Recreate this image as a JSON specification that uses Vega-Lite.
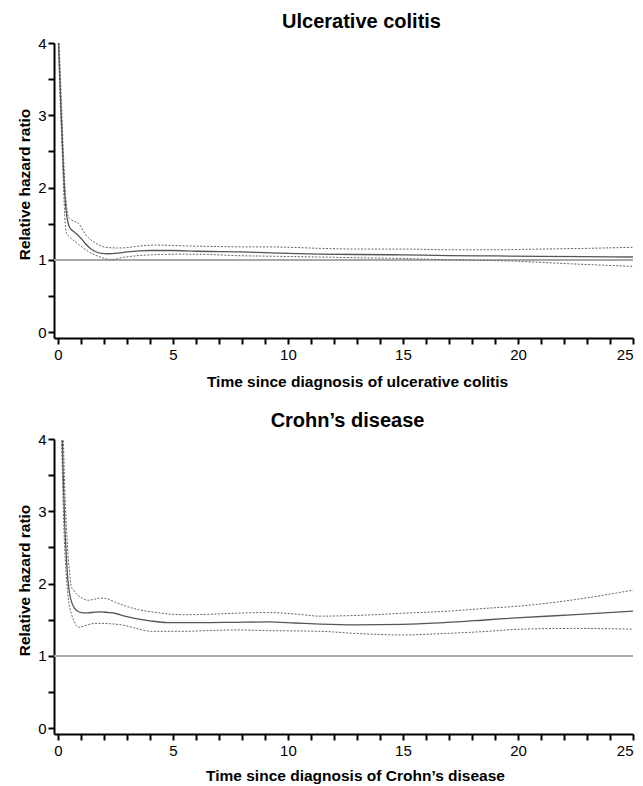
{
  "$schema": "https://vega.github.io/schema/vega-lite/v6.json",
  "padding": {"left": 17, "top": 12, "right": 0, "bottom": 0},
  "background": "white",
  "config": {
    "font": "Liberation Sans",
    "view": {"stroke": null},
    "axis": {"domainColor": "black", "domainWidth": 2, "tickColor": "black", "tickWidth": 2, "tickSize": 6, "labelFontSize": 15, "labelColor": "black", "labelFont": "Liberation Sans", "titleFont": "Liberation Sans", "titleFontSize": 15.5, "titleColor": "black", "titleFontWeight": "bold", "grid": false},
    "title": {"fontSize": 20, "fontWeight": "bold", "color": "black", "font": "Liberation Sans"},
    "concat": {"spacing": 21}
  },
  "datasets": {
    "curves": [
      {"panel":"UC","series":"estimate","x":0.03,"y":4.0},{"panel":"UC","series":"estimate","x":0.12,"y":3.2},{"panel":"UC","series":"estimate","x":0.22,"y":2.4},{"panel":"UC","series":"estimate","x":0.3,"y":1.9},{"panel":"UC","series":"estimate","x":0.36,"y":1.67},{"panel":"UC","series":"estimate","x":0.45,"y":1.5},{"panel":"UC","series":"estimate","x":0.55,"y":1.43},{"panel":"UC","series":"estimate","x":0.7,"y":1.39},{"panel":"UC","series":"estimate","x":0.87,"y":1.34},{"panel":"UC","series":"estimate","x":1.0,"y":1.3},{"panel":"UC","series":"estimate","x":1.16,"y":1.24},{"panel":"UC","series":"estimate","x":1.4,"y":1.16},{"panel":"UC","series":"estimate","x":1.6,"y":1.12},{"panel":"UC","series":"estimate","x":1.9,"y":1.09},{"panel":"UC","series":"estimate","x":2.2,"y":1.085},{"panel":"UC","series":"estimate","x":2.5,"y":1.09},{"panel":"UC","series":"estimate","x":3.0,"y":1.11},{"panel":"UC","series":"estimate","x":3.5,"y":1.125},{"panel":"UC","series":"estimate","x":4.0,"y":1.13},{"panel":"UC","series":"estimate","x":5,"y":1.13},{"panel":"UC","series":"estimate","x":6,"y":1.12},{"panel":"UC","series":"estimate","x":7,"y":1.115},{"panel":"UC","series":"estimate","x":8,"y":1.11},{"panel":"UC","series":"estimate","x":9,"y":1.1},{"panel":"UC","series":"estimate","x":10,"y":1.09},{"panel":"UC","series":"estimate","x":11.4,"y":1.08},{"panel":"UC","series":"estimate","x":13,"y":1.075},{"panel":"UC","series":"estimate","x":15,"y":1.07},{"panel":"UC","series":"estimate","x":17,"y":1.06},{"panel":"UC","series":"estimate","x":19,"y":1.055},{"panel":"UC","series":"estimate","x":21,"y":1.05},{"panel":"UC","series":"estimate","x":23,"y":1.045},{"panel":"UC","series":"estimate","x":25,"y":1.04},
      {"panel":"UC","series":"upper","x":0.05,"y":4.0},{"panel":"UC","series":"upper","x":0.15,"y":3.2},{"panel":"UC","series":"upper","x":0.25,"y":2.4},{"panel":"UC","series":"upper","x":0.33,"y":1.9},{"panel":"UC","series":"upper","x":0.4,"y":1.68},{"panel":"UC","series":"upper","x":0.48,"y":1.58},{"panel":"UC","series":"upper","x":0.6,"y":1.55},{"panel":"UC","series":"upper","x":0.75,"y":1.53},{"panel":"UC","series":"upper","x":0.94,"y":1.49},{"panel":"UC","series":"upper","x":1.05,"y":1.43},{"panel":"UC","series":"upper","x":1.16,"y":1.37},{"panel":"UC","series":"upper","x":1.35,"y":1.3},{"panel":"UC","series":"upper","x":1.6,"y":1.24},{"panel":"UC","series":"upper","x":1.9,"y":1.19},{"panel":"UC","series":"upper","x":2.2,"y":1.17},{"panel":"UC","series":"upper","x":2.6,"y":1.165},{"panel":"UC","series":"upper","x":3.0,"y":1.17},{"panel":"UC","series":"upper","x":3.5,"y":1.19},{"panel":"UC","series":"upper","x":4.2,"y":1.205},{"panel":"UC","series":"upper","x":5,"y":1.2},{"panel":"UC","series":"upper","x":6,"y":1.19},{"panel":"UC","series":"upper","x":7,"y":1.185},{"panel":"UC","series":"upper","x":8,"y":1.18},{"panel":"UC","series":"upper","x":9,"y":1.18},{"panel":"UC","series":"upper","x":10,"y":1.175},{"panel":"UC","series":"upper","x":11.4,"y":1.16},{"panel":"UC","series":"upper","x":13,"y":1.15},{"panel":"UC","series":"upper","x":15,"y":1.15},{"panel":"UC","series":"upper","x":17,"y":1.14},{"panel":"UC","series":"upper","x":19,"y":1.14},{"panel":"UC","series":"upper","x":21,"y":1.15},{"panel":"UC","series":"upper","x":23,"y":1.16},{"panel":"UC","series":"upper","x":25,"y":1.175},
      {"panel":"UC","series":"lower","x":0.02,"y":4.0},{"panel":"UC","series":"lower","x":0.1,"y":3.2},{"panel":"UC","series":"lower","x":0.2,"y":2.4},{"panel":"UC","series":"lower","x":0.27,"y":1.8},{"panel":"UC","series":"lower","x":0.33,"y":1.45},{"panel":"UC","series":"lower","x":0.37,"y":1.37},{"panel":"UC","series":"lower","x":0.5,"y":1.32},{"panel":"UC","series":"lower","x":0.72,"y":1.26},{"panel":"UC","series":"lower","x":1.0,"y":1.19},{"panel":"UC","series":"lower","x":1.3,"y":1.12},{"panel":"UC","series":"lower","x":1.6,"y":1.07},{"panel":"UC","series":"lower","x":1.88,"y":1.035},{"panel":"UC","series":"lower","x":2.1,"y":1.015},{"panel":"UC","series":"lower","x":2.3,"y":1.005},{"panel":"UC","series":"lower","x":2.5,"y":1.01},{"panel":"UC","series":"lower","x":2.75,"y":1.03},{"panel":"UC","series":"lower","x":3.2,"y":1.05},{"panel":"UC","series":"lower","x":4.06,"y":1.07},{"panel":"UC","series":"lower","x":5.5,"y":1.08},{"panel":"UC","series":"lower","x":6.5,"y":1.075},{"panel":"UC","series":"lower","x":7.7,"y":1.06},{"panel":"UC","series":"lower","x":9.5,"y":1.05},{"panel":"UC","series":"lower","x":11.4,"y":1.04},{"panel":"UC","series":"lower","x":13,"y":1.03},{"panel":"UC","series":"lower","x":15,"y":1.02},{"panel":"UC","series":"lower","x":17.2,"y":1.0},{"panel":"UC","series":"lower","x":19,"y":0.99},{"panel":"UC","series":"lower","x":20.1,"y":0.98},{"panel":"UC","series":"lower","x":22,"y":0.95},{"panel":"UC","series":"lower","x":23.5,"y":0.93},{"panel":"UC","series":"lower","x":25,"y":0.91},
      {"panel":"CD","series":"estimate","x":0.19,"y":3.98},{"panel":"CD","series":"estimate","x":0.25,"y":3.3},{"panel":"CD","series":"estimate","x":0.3,"y":2.8},{"panel":"CD","series":"estimate","x":0.36,"y":2.42},{"panel":"CD","series":"estimate","x":0.42,"y":2.1},{"panel":"CD","series":"estimate","x":0.51,"y":1.86},{"panel":"CD","series":"estimate","x":0.6,"y":1.74},{"panel":"CD","series":"estimate","x":0.72,"y":1.66},{"panel":"CD","series":"estimate","x":0.85,"y":1.62},{"panel":"CD","series":"estimate","x":1.01,"y":1.6},{"panel":"CD","series":"estimate","x":1.3,"y":1.595},{"panel":"CD","series":"estimate","x":1.6,"y":1.605},{"panel":"CD","series":"estimate","x":1.88,"y":1.61},{"panel":"CD","series":"estimate","x":2.2,"y":1.6},{"panel":"CD","series":"estimate","x":2.46,"y":1.59},{"panel":"CD","series":"estimate","x":2.9,"y":1.55},{"panel":"CD","series":"estimate","x":3.33,"y":1.52},{"panel":"CD","series":"estimate","x":4.0,"y":1.485},{"panel":"CD","series":"estimate","x":4.78,"y":1.46},{"panel":"CD","series":"estimate","x":6.2,"y":1.46},{"panel":"CD","series":"estimate","x":7.7,"y":1.465},{"panel":"CD","series":"estimate","x":9.1,"y":1.47},{"panel":"CD","series":"estimate","x":10.3,"y":1.455},{"panel":"CD","series":"estimate","x":11.4,"y":1.44},{"panel":"CD","series":"estimate","x":12.9,"y":1.43},{"panel":"CD","series":"estimate","x":15,"y":1.435},{"panel":"CD","series":"estimate","x":16.8,"y":1.46},{"panel":"CD","series":"estimate","x":18.7,"y":1.5},{"panel":"CD","series":"estimate","x":20.1,"y":1.53},{"panel":"CD","series":"estimate","x":22.5,"y":1.57},{"panel":"CD","series":"estimate","x":25,"y":1.62},
      {"panel":"CD","series":"upper","x":0.24,"y":3.98},{"panel":"CD","series":"upper","x":0.3,"y":3.3},{"panel":"CD","series":"upper","x":0.37,"y":2.8},{"panel":"CD","series":"upper","x":0.44,"y":2.4},{"panel":"CD","series":"upper","x":0.51,"y":2.15},{"panel":"CD","series":"upper","x":0.58,"y":1.96},{"panel":"CD","series":"upper","x":0.7,"y":1.9},{"panel":"CD","series":"upper","x":0.87,"y":1.84},{"panel":"CD","series":"upper","x":1.05,"y":1.8},{"panel":"CD","series":"upper","x":1.3,"y":1.77},{"panel":"CD","series":"upper","x":1.6,"y":1.785},{"panel":"CD","series":"upper","x":1.88,"y":1.8},{"panel":"CD","series":"upper","x":2.1,"y":1.795},{"panel":"CD","series":"upper","x":2.3,"y":1.77},{"panel":"CD","series":"upper","x":2.6,"y":1.73},{"panel":"CD","series":"upper","x":3.04,"y":1.68},{"panel":"CD","series":"upper","x":3.5,"y":1.64},{"panel":"CD","series":"upper","x":4.06,"y":1.61},{"panel":"CD","series":"upper","x":5.5,"y":1.57},{"panel":"CD","series":"upper","x":6.5,"y":1.575},{"panel":"CD","series":"upper","x":7.7,"y":1.59},{"panel":"CD","series":"upper","x":9.1,"y":1.6},{"panel":"CD","series":"upper","x":10.3,"y":1.58},{"panel":"CD","series":"upper","x":11.4,"y":1.55},{"panel":"CD","series":"upper","x":13,"y":1.56},{"panel":"CD","series":"upper","x":15,"y":1.59},{"panel":"CD","series":"upper","x":17,"y":1.62},{"panel":"CD","series":"upper","x":18.7,"y":1.66},{"panel":"CD","series":"upper","x":20.1,"y":1.69},{"panel":"CD","series":"upper","x":22.5,"y":1.78},{"panel":"CD","series":"upper","x":25,"y":1.91},
      {"panel":"CD","series":"lower","x":0.16,"y":3.98},{"panel":"CD","series":"lower","x":0.22,"y":3.2},{"panel":"CD","series":"lower","x":0.28,"y":2.6},{"panel":"CD","series":"lower","x":0.36,"y":2.14},{"panel":"CD","series":"lower","x":0.45,"y":1.8},{"panel":"CD","series":"lower","x":0.58,"y":1.59},{"panel":"CD","series":"lower","x":0.7,"y":1.48},{"panel":"CD","series":"lower","x":0.8,"y":1.42},{"panel":"CD","series":"lower","x":0.94,"y":1.395},{"panel":"CD","series":"lower","x":1.1,"y":1.41},{"panel":"CD","series":"lower","x":1.3,"y":1.43},{"panel":"CD","series":"lower","x":1.6,"y":1.45},{"panel":"CD","series":"lower","x":1.88,"y":1.45},{"panel":"CD","series":"lower","x":2.3,"y":1.445},{"panel":"CD","series":"lower","x":2.75,"y":1.43},{"panel":"CD","series":"lower","x":3.3,"y":1.39},{"panel":"CD","series":"lower","x":4.06,"y":1.34},{"panel":"CD","series":"lower","x":5.5,"y":1.34},{"panel":"CD","series":"lower","x":6.5,"y":1.35},{"panel":"CD","series":"lower","x":7.7,"y":1.36},{"panel":"CD","series":"lower","x":9.1,"y":1.35},{"panel":"CD","series":"lower","x":11.4,"y":1.34},{"panel":"CD","series":"lower","x":13,"y":1.31},{"panel":"CD","series":"lower","x":15,"y":1.29},{"panel":"CD","series":"lower","x":16.8,"y":1.31},{"panel":"CD","series":"lower","x":18.7,"y":1.34},{"panel":"CD","series":"lower","x":20.1,"y":1.37},{"panel":"CD","series":"lower","x":22.5,"y":1.38},{"panel":"CD","series":"lower","x":25,"y":1.37}
    ]
  },
  "vconcat": [
    {
      "width": 579, "height": 295,
      "title": {"text": "Ulcerative colitis", "dx": 18, "offset": 4},
      "data": {"name": "curves"},
      "transform": [{"filter": "datum.panel === 'UC'"}],
      "encoding": {
        "x": {"field": "x", "type": "quantitative", "scale": {"domain": [-0.17, 25], "nice": false, "zero": false},
              "axis": {"title": "Time since diagnosis of ulcerative colitis", "values": [0,1,2,3,4,5,6,7,8,9,10,11,12,13,14,15,16,17,18,19,20,21,22,23,24,25], "labelExpr": "datum.value % 5 === 0 ? format(datum.value, 'd') : ''", "titlePadding": 12, "titleX": 303, "labelPadding": 3}},
        "y": {"field": "y", "type": "quantitative", "scale": {"domain": [-0.08, 4], "nice": false, "zero": false},
              "axis": {"title": "Relative hazard ratio", "values": [0,0.5,1,1.5,2,2.5,3,3.5,4], "labelExpr": "datum.value % 1 === 0 ? format(datum.value, 'd') : ''", "titlePadding": 5, "labelPadding": 2, "titleY": 141}}
      },
      "layer": [
        {"mark": {"type": "rule", "color": "#aaaaaa", "strokeWidth": 1}, "encoding": {"x": null, "y": {"datum": 1}}},
        {"transform": [{"filter": "datum.series !== 'estimate'"}], "mark": {"type": "line", "color": "#666666", "strokeWidth": 1, "strokeDash": [2, 1.5], "interpolate": "monotone"}, "encoding": {"detail": {"field": "series"}}},
        {"transform": [{"filter": "datum.series === 'estimate'"}], "mark": {"type": "line", "color": "#555555", "strokeWidth": 1.3, "interpolate": "monotone"}, "encoding": {}}
      ]
    },
    {
      "width": 579, "height": 295,
      "title": {"text": "Crohn’s disease", "dx": 4, "offset": 1},
      "data": {"name": "curves"},
      "transform": [{"filter": "datum.panel === 'CD'"}],
      "encoding": {
        "x": {"field": "x", "type": "quantitative", "scale": {"domain": [-0.17, 25], "nice": false, "zero": false},
              "axis": {"title": "Time since diagnosis of Crohn’s disease", "values": [0,1,2,3,4,5,6,7,8,9,10,11,12,13,14,15,16,17,18,19,20,21,22,23,24,25], "labelExpr": "datum.value % 5 === 0 ? format(datum.value, 'd') : ''", "titlePadding": 10, "titleX": 301, "labelPadding": 3}},
        "y": {"field": "y", "type": "quantitative", "scale": {"domain": [-0.08, 4], "nice": false, "zero": false},
              "axis": {"title": "Relative hazard ratio", "values": [0,0.5,1,1.5,2,2.5,3,3.5,4], "labelExpr": "datum.value % 1 === 0 ? format(datum.value, 'd') : ''", "titlePadding": 5, "labelPadding": 2, "titleY": 141}}
      },
      "layer": [
        {"mark": {"type": "rule", "color": "#aaaaaa", "strokeWidth": 1}, "encoding": {"x": null, "y": {"datum": 1}}},
        {"transform": [{"filter": "datum.series !== 'estimate'"}], "mark": {"type": "line", "color": "#666666", "strokeWidth": 1, "strokeDash": [2, 1.5], "interpolate": "monotone"}, "encoding": {"detail": {"field": "series"}}},
        {"transform": [{"filter": "datum.series === 'estimate'"}], "mark": {"type": "line", "color": "#555555", "strokeWidth": 1.3, "interpolate": "monotone"}, "encoding": {}}
      ]
    }
  ]
}
